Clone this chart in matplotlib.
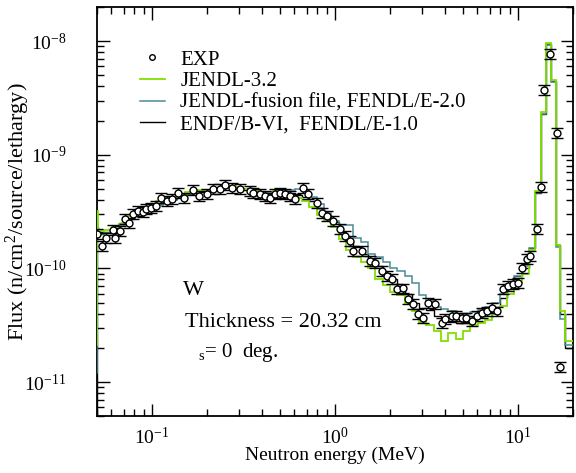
import numpy as np
import matplotlib as mpl
mpl.use('agg')
import matplotlib.pyplot as plt
from matplotlib.lines import Line2D

plt.rcParams['font.family'] = ['Liberation Serif', 'DejaVu Serif']
plt.rcParams['mathtext.fontset'] = 'custom'
plt.rcParams['mathtext.rm'] = 'Liberation Serif'
plt.rcParams['mathtext.it'] = 'Liberation Serif:italic'

# measured spectrum (flux in units of 1e-10)
exp_e = [0.050, 0.0535, 0.056, 0.061, 0.063, 0.067, 0.071, 0.075, 0.079, 0.084,
         0.089, 0.093, 0.099, 0.105, 0.112, 0.121, 0.128, 0.139, 0.149, 0.167,
         0.182, 0.200, 0.215, 0.236, 0.250, 0.274, 0.302, 0.343, 0.358, 0.390,
         0.414, 0.441, 0.469, 0.500, 0.533, 0.568, 0.604, 0.668, 0.711, 0.797,
         0.849, 0.904, 0.975, 1.07, 1.14, 1.21, 1.25, 1.40, 1.55, 1.65,
         1.80, 1.93, 2.05, 2.18, 2.35, 2.50, 2.67, 2.84, 3.02, 3.22,
         3.52, 3.84, 3.99, 4.36, 4.61, 4.92, 5.23, 5.64, 5.95, 6.36,
         6.77, 7.18, 7.69, 8.30, 8.82, 9.43, 9.94, 10.5, 11.2, 11.6,
         12.7, 13.4, 13.9, 14.9, 16.3, 17.0]
exp_f = [2.02, 1.58, 1.86, 2.18, 1.86, 2.14, 2.73, 2.51, 3.02, 3.21,
         3.15, 3.34, 3.41, 3.55, 4.17, 3.93, 4.09, 4.63, 4.17, 4.91,
         4.35, 4.53, 5.01, 5.01, 5.44, 5.12, 5.01, 4.82, 4.63, 4.53,
         4.35, 4.17, 4.53, 4.63, 4.53, 4.35, 4.09, 5.12, 4.53, 3.78,
         3.09, 2.90, 2.62, 2.23, 1.93, 1.75, 1.43, 1.43, 1.16, 1.12,
         0.95, 0.86, 0.81, 0.66, 0.67, 0.54, 0.49, 0.40, 0.37, 0.50,
         0.49, 0.33, 0.36, 0.38, 0.38, 0.37, 0.37, 0.345, 0.38, 0.405,
         0.42, 0.45, 0.42, 0.66, 0.70, 0.73, 0.745, 1.01, 1.21, 1.29,
         2.23, 5.2, 37.2, 77.5, 15.6, 0.136]
exp_relerr = 0.10

# group boundaries of the calculations (MeV)
edges = [0.040, 0.0501, 0.0508, 0.0550, 0.0603, 0.0661, 0.0724, 0.0794, 0.0871, 0.0955,
         0.105, 0.115, 0.126, 0.138, 0.151, 0.166, 0.182, 0.200, 0.219, 0.240,
         0.263, 0.288, 0.316, 0.347, 0.380, 0.417, 0.457, 0.501, 0.550, 0.603,
         0.661, 0.724, 0.794, 0.871, 0.955, 1.05, 1.15, 1.26, 1.38, 1.51,
         1.66, 1.82, 2.00, 2.19, 2.40, 2.63, 2.88, 3.16, 3.47, 3.80,
         4.17, 4.57, 5.01, 5.50, 6.03, 6.61, 7.24, 7.94, 8.71, 9.55,
         10.5, 11.5, 12.4, 13.4, 14.3, 15.2, 16.1, 17.0, 18.1, 20.0]

endf = [0.03, 2.3, 2.1, 2.1, 2.25, 2.5, 2.75, 3.05, 3.25, 3.4,
        3.7, 3.9, 4.1, 4.3, 4.5, 4.6, 4.7, 4.85, 5.0, 5.2,
        5.1, 5.0, 4.9, 4.75, 4.6, 4.5, 4.55, 4.5, 4.6, 4.45,
        4.3, 3.9, 3.4, 2.95, 2.55, 2.1, 1.75, 1.55, 1.35, 1.2,
        1.05, 0.92, 0.8, 0.7, 0.6, 0.5, 0.45, 0.43, 0.38, 0.35,
        0.34, 0.33, 0.34, 0.36, 0.38, 0.41, 0.46, 0.55, 0.68, 0.85,
        1.0, 1.5, 4.6, 23, 95, 45, 1.6, 0.4, 0.2]
jendl32 = [0.21, 3.2, 2.15, 2.2, 2.35, 2.45, 2.9, 3.2, 3.35, 3.5,
           3.9, 4.2, 4.25, 4.4, 4.7, 4.9, 4.9, 4.95, 5.1, 5.3,
           5.3, 5.2, 5.0, 4.85, 4.6, 4.5, 4.8, 4.3, 4.3, 4.15,
           3.9, 3.45, 2.95, 2.6, 2.3, 1.8, 1.45, 1.25, 1.15, 1.0,
           0.8, 0.72, 0.62, 0.58, 0.5, 0.42, 0.34, 0.32, 0.28, 0.23,
           0.27, 0.24, 0.28, 0.32, 0.33, 0.35, 0.40, 0.47, 0.6, 0.75,
           0.9, 1.45, 4.8, 24, 97, 46, 1.6, 0.42, 0.23]
jendl_fus = [0.12, 2.5, 2.0, 2.05, 2.2, 2.4, 2.7, 3.0, 3.2, 3.35,
             3.6, 3.9, 4.0, 4.3, 4.55, 4.7, 4.8, 4.9, 5.0, 5.2,
             5.2, 5.15, 5.0, 4.9, 4.75, 4.7, 4.7, 4.8, 4.95, 5.0,
             4.9, 4.3, 3.7, 3.05, 2.6, 2.4, 2.4, 1.85, 1.7, 1.35,
             1.25, 1.15, 1.0, 0.95, 0.85, 0.75, 0.58, 0.52, 0.46, 0.44,
             0.42, 0.40, 0.40, 0.41, 0.43, 0.46, 0.50, 0.6, 0.72, 0.85,
             1.05, 1.5, 4.6, 23, 93, 44, 1.55, 0.36, 0.21]

scale = 1e-10
c_green = '#7fe000'
c_teal = '#4d8c94'

fig = plt.figure(figsize=(5.76, 4.73), dpi=100)
ax = fig.add_axes([0.168, 0.12, 0.827, 0.865])

ax.stairs(np.array(endf) * scale, edges, color='k', lw=1.0, baseline=None, zorder=3)
ax.stairs(np.array(jendl_fus) * scale, edges, color=c_teal, lw=1.1, baseline=None, zorder=4)
ax.stairs(np.array(jendl32) * scale, edges, color=c_green, lw=1.3, baseline=None, zorder=5)

ef = np.array(exp_f) * scale
ax.errorbar(exp_e, ef, yerr=ef * exp_relerr, fmt='o', ms=5, mfc='w', mec='k',
            mew=1.0, ecolor='k', elinewidth=1.0, capsize=4, capthick=1.0,
            zorder=6)

ax.set_xscale('log')
ax.set_yscale('log')
ax.set_xlim(0.05, 20)
ax.set_ylim(5e-12, 2e-8)

ax.tick_params(which='both', direction='in', top=True, right=True, labelsize=14)
ax.tick_params(axis='x', which='both', pad=8)
ax.tick_params(axis='y', which='both', pad=22)
ax.tick_params(which='major', length=9, width=1)
ax.tick_params(which='minor', length=5, width=1)
for sp in ax.spines.values():
    sp.set_linewidth(1.3)

ax.set_xlabel('Neutron energy (MeV)', fontsize=14, labelpad=-1)
ax.set_ylabel('Flux (n/cm$^2$/source/lethargy)', fontsize=16)
ax.yaxis.set_label_coords(-0.136, 0.5)

handles = [
    Line2D([], [], ls='none', marker='o', ms=4, mfc='w', mec='k', mew=1.0),
    Line2D([], [], color=c_green, lw=1.3),
    Line2D([], [], color=c_teal, lw=1.1),
    Line2D([], [], color='k', lw=1.0),
]
labels = ['EXP', 'JENDL-3.2', 'JENDL-fusion file, FENDL/E-2.0',
          'ENDF/B-VI,  FENDL/E-1.0']
ax.legend(handles, labels, loc='upper left', bbox_to_anchor=(0.09, 0.895),
          frameon=False, fontsize=15, handlelength=1.2, handletextpad=0.75,
          labelspacing=0.1, borderpad=0, borderaxespad=0)

ax.text(0.18, 0.308, 'W', transform=ax.transAxes, fontsize=16, va='center')
ax.text(0.185, 0.23, 'Thickness = 20.32 cm', transform=ax.transAxes,
        fontsize=16, va='center')
ax.text(0.213, 0.157, '$_{\\rm s}$= 0  deg.', transform=ax.transAxes,
        fontsize=15, va='center')

plt.savefig('out.png', dpi=100)
